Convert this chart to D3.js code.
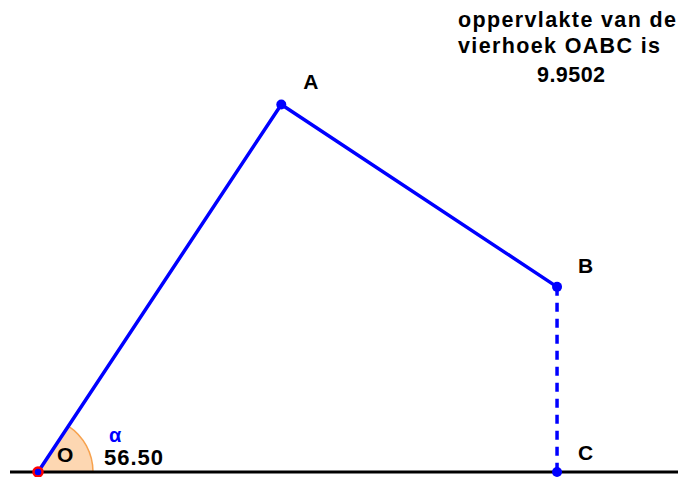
<!DOCTYPE html>
<html><head><meta charset="utf-8">
<script src="https://cdn.jsdelivr.net/npm/d3@7"></script>
<style>body{margin:0;background:#fff}svg{display:block}</style>
</head><body>
<svg id="c" width="678" height="477"></svg>
<script>
const pointNames = ["O","A","B","C"];
const alphaDeg = 56.50;
const lenOA = 4;
const pointX = [0, lenOA*Math.cos(alphaDeg*Math.PI/180), 4.71, 4.71];
const pointY = [0, lenOA*Math.sin(alphaDeg*Math.PI/180), 1.68, 0];
const areaLines = ["oppervlakte van de","vierhoek OABC is"];
const areaValue = "9.9502";

const svg = d3.select("#c");
const x = d3.scaleLinear().domain([0, 5.8]).range([38, 38+5.8*110.2]);
const y = d3.scaleLinear().domain([0, 4.28]).range([472, 472-4.28*110.2]);
const P = pointNames.map((n,i)=>({n, x:x(pointX[i]), y:y(pointY[i])}));

// angle arc
const r = 55;
const a0 = Math.PI/2 - alphaDeg*Math.PI/180;
svg.append("path")
  .attr("transform",`translate(${P[0].x},${P[0].y})`)
  .attr("d", d3.arc()({innerRadius:0, outerRadius:r, startAngle:a0, endAngle:Math.PI/2}))
  .attr("fill","#fdd7b2").attr("stroke","#f7a24e").attr("stroke-width",1.5);

// x axis line
svg.append("line").attr("x1",10).attr("x2",678).attr("y1",P[0].y).attr("y2",P[0].y)
  .attr("stroke","#000").attr("stroke-width",3);

// polygon sides
const line = d3.line().x(d=>d.x).y(d=>d.y);
svg.append("path").attr("d", line([P[0],P[1],P[2]])).attr("fill","none")
  .attr("stroke","#0000ff").attr("stroke-width",3.5).attr("stroke-linejoin","round");
svg.append("path").attr("d", line([P[2],P[3]])).attr("fill","none")
  .attr("stroke","#0000ff").attr("stroke-width",3.5).attr("stroke-dasharray","9,7");

// points
P.slice(1).forEach(p=>{
  svg.append("circle").attr("cx",p.x).attr("cy",p.y).attr("r",5).attr("fill","#0000ff");
});
svg.append("circle").attr("cx",P[0].x).attr("cy",P[0].y).attr("r",4.5)
  .attr("fill","#0000ff").attr("stroke","#ff0000").attr("stroke-width",2.5);

const font = "'Liberation Sans', Arial, sans-serif";
// point labels
const lab = [{t:"A",dx:22,dy:-15},{t:"B",dx:21,dy:-14},{t:"C",dx:21,dy:-12}];
lab.forEach((l,i)=>{
  svg.append("text").attr("x",P[i+1].x+l.dx).attr("y",P[i+1].y+l.dy)
    .attr("font-family",font).attr("font-weight","bold").attr("font-size",21).text(l.t);
});
svg.append("text").attr("x",P[0].x+19).attr("y",P[0].y-10)
  .attr("font-family",font).attr("font-weight","bold").attr("font-size",21).text("O");
svg.append("text").attr("x",109).attr("y",442)
  .attr("font-family",font).attr("font-weight","bold").attr("font-size",20).attr("fill","#0000ff").text("α");
svg.append("text").attr("x",104).attr("y",465)
  .attr("font-family",font).attr("font-weight","bold").attr("font-size",22)
  .attr("textLength",59).attr("lengthAdjust","spacing").text(alphaDeg.toFixed(2));

// area text
const tx = svg.append("g").attr("font-family",font).attr("font-weight","bold").attr("font-size",21.5);
tx.append("text").attr("x",458).attr("y",27).attr("textLength",218).attr("lengthAdjust","spacing").text(areaLines[0]);
tx.append("text").attr("x",458).attr("y",53).attr("textLength",202).attr("lengthAdjust","spacing").text(areaLines[1]);
tx.append("text").attr("x",537).attr("y",82).attr("textLength",68).attr("lengthAdjust","spacing").text(areaValue);
</script>
</body></html>
